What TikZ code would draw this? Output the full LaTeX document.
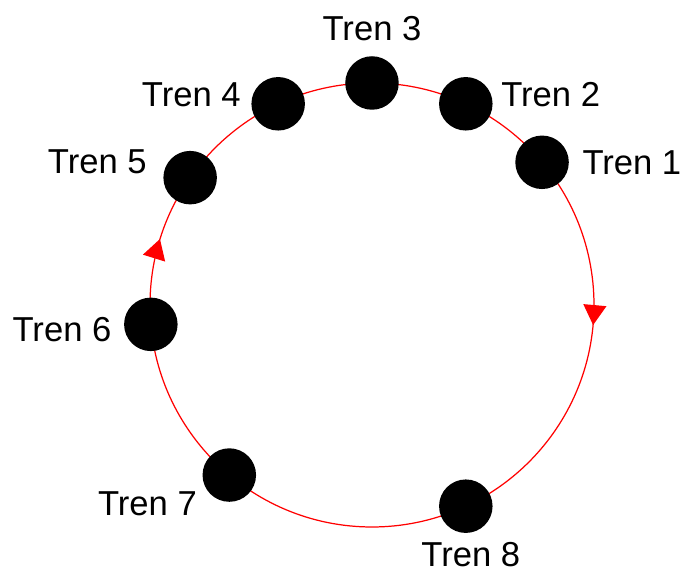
\documentclass[tikz,border=0pt]{standalone}
\usepackage{fontspec}
\setmainfont{Liberation Sans}
\usetikzlibrary{positioning, arrows.meta, decorations.markings}
\tikzset{>={Triangle[width=0.46cm,length=0.4cm]}}

\begin{document}
\begin{tikzpicture}[
    train/.style={circle, fill=black, minimum size=1.07cm, inner sep=0},
    tag/.style={inner sep=0, font=\fontsize{19.7}{24}\selectfont},
    track/.style={red, line width=0.7pt, postaction={decorate},
        decoration={markings,
            mark=at position 0.0144 with {\arrow[red]{>}},
            mark=at position 0.548 with {\arrow[red]{>}}}}
    ]
    \useasboundingbox (-7.44,-5.34) rectangle (6.2,6.1);
    % the loop, run clockwise
    \draw[track] (0:4.44) arc[start angle=0, end angle=-360, radius=4.44];
    % trains on the loop
    \node[train] (t1) at (40:4.44) {};
    \node[train] (t2) at (65:4.44) {};
    \node[train] (t3) at (90:4.44) {};
    \node[train] (t4) at (115:4.44) {};
    \node[train] (t5) at (145:4.44) {};
    \node[train] (t6) at (185:4.44) {};
    \node[train] (t7) at (230:4.44) {};
    \node[train] (t8) at (295:4.44) {};
    % names
    \node[tag, right=0.26cm of t1] (l1) {Tren 1};
    \node[tag, right=0.16cm of t2, yshift=0.18cm] (l2) {Tren 2};
    \node[tag, above=0.3cm of t3] (l3) {Tren 3};
    \node[tag, left=0.2cm of t4, yshift=0.18cm] (l4) {Tren 4};
    \node[tag, left=0.32cm of t5, yshift=0.32cm] (l5) {Tren 5};
    \node[tag, left=0.24cm of t6, yshift=-0.1cm] (l6) {Tren 6};
    \node[tag, left=0.1cm of t7, yshift=-0.58cm] (l7) {Tren 7};
    \node[tag, below=0.18cm of t8, xshift=0.1cm] (l8) {Tren 8};
\end{tikzpicture}
\end{document}
